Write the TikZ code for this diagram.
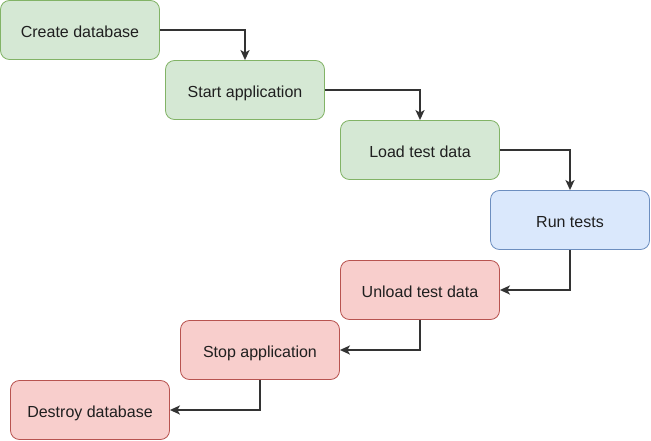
\documentclass[tikz,border=0pt]{standalone}
\usepackage{fontspec}
\setmainfont{Liberation Sans}
\usetikzlibrary{arrows.meta}
\definecolor{gfill}{HTML}{D5E8D4}
\definecolor{gline}{HTML}{82B366}
\definecolor{bfill}{HTML}{DAE8FC}
\definecolor{bline}{HTML}{6C8EBF}
\definecolor{rfill}{HTML}{F8CECC}
\definecolor{rline}{HTML}{B85450}
\definecolor{edge}{HTML}{333333}
\begin{document}
\begin{tikzpicture}[x=1pt,y=-1pt,
  box/.style={rounded corners=9pt,minimum width=159pt,minimum height=59pt,inner sep=0pt,line width=0.8pt,font=\fontsize{16}{18}\selectfont,text=black!88,text height=15pt,text depth=0pt},
  gbox/.style={box,fill=gfill,draw=gline},
  bbox/.style={box,fill=bfill,draw=bline},
  rbox/.style={box,fill=rfill,draw=rline},
  conn/.style={draw=edge,line width=1.8pt,-{Stealth[length=10pt,width=9pt,inset=2.5pt]}}]
\useasboundingbox (0,0) rectangle (651,441);
\node[gbox] (a) at (80,30) {Create database};
\node[gbox] (b) at (245,90) {Start application};
\node[gbox] (c) at (420,150) {Load test data};
\node[bbox] (d) at (570,220) {Run tests};
\node[rbox] (e) at (420,290) {Unload test data};
\node[rbox] (f) at (260,350) {Stop application};
\node[rbox] (g) at (90,410) {Destroy database};
\draw[conn] (a.east) -| (b.north);
\draw[conn] (b.east) -| (c.north);
\draw[conn] (c.east) -| (d.north);
\draw[conn] (d.south) |- (e.east);
\draw[conn] (e.south) |- (f.east);
\draw[conn] (f.south) |- (g.east);
\end{tikzpicture}
\end{document}
